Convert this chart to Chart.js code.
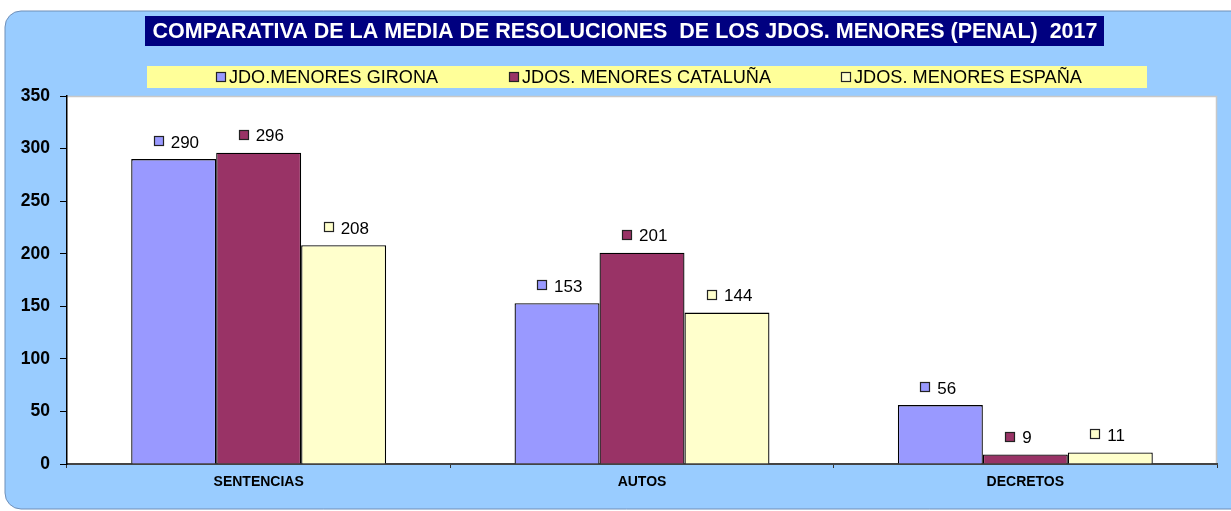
<!DOCTYPE html>
<html>
<head>
<meta charset="utf-8">
<script src="https://cdn.jsdelivr.net/npm/chart.js@4"></script>
<style>
html,body{margin:0;padding:0;background:#fff;}
#wrap{width:1231px;height:511px;position:relative;}
</style>
</head>
<body>
<div id="wrap"><canvas id="c" width="1231" height="511"></canvas></div>
<script>
const categories = ['SENTENCIAS', 'AUTOS', 'DECRETOS'];
const seriesNames = ['JDO.MENORES GIRONA', 'JDOS. MENORES CATALUÑA', 'JDOS. MENORES ESPAÑA'];
const gironaValues = [290, 153, 56];
const catalunaValues = [296, 201, 9];
const espanaValues = [208, 144, 11];
const yTicks = [0, 50, 100, 150, 200, 250, 300, 350];
const titleText = 'COMPARATIVA DE LA MEDIA DE RESOLUCIONES  DE LOS JDOS. MENORES (PENAL)  2017';
const seriesColors = ['#9999FF', '#993366', '#FFFFCC'];

const FONT = 'Arial, "Liberation Sans", sans-serif';

const decorPlugin = {
  id: 'decor',
  beforeDraw(chart) {
    const ctx = chart.ctx;
    ctx.save();
    // rounded light blue panel
    const x = 5, y = 11, w = 1240, h = 498, r = 16;
    ctx.beginPath();
    ctx.moveTo(x + r, y);
    ctx.lineTo(x + w, y);
    ctx.lineTo(x + w, y + h);
    ctx.lineTo(x + r, y + h);
    ctx.arcTo(x, y + h, x, y + h - r, r);
    ctx.lineTo(x, y + r);
    ctx.arcTo(x, y, x + r, y, r);
    ctx.closePath();
    ctx.fillStyle = '#99CCFF';
    ctx.fill();
    ctx.lineWidth = 1;
    ctx.strokeStyle = '#6f8fb8';
    ctx.stroke();
    // plot area background
    const a = chart.chartArea;
    ctx.fillStyle = '#FFFFFF';
    ctx.fillRect(a.left, a.top, a.right - a.left, a.bottom - a.top);
    ctx.strokeStyle = '#c8c8c8';
    ctx.lineWidth = 1.5;
    ctx.beginPath();
    ctx.moveTo(a.left, a.top + 0.5);
    ctx.lineTo(a.right - 0.5, a.top + 0.5);
    ctx.lineTo(a.right - 0.5, a.bottom);
    ctx.stroke();
    // title box
    ctx.fillStyle = '#000080';
    ctx.fillRect(145, 16, 959, 30);
    ctx.fillStyle = '#FFFFFF';
    ctx.font = 'bold 21.5px ' + FONT;
    ctx.textAlign = 'center';
    ctx.textBaseline = 'middle';
    ctx.fillText(titleText, 625, 32, 946);
    // legend box
    ctx.fillStyle = '#FFFF99';
    ctx.fillRect(147, 66, 1000, 22);
    const legendX = [216, 509, 841];
    const legendW = [209, 249, 228];
    ctx.font = '18.5px ' + FONT;
    ctx.textAlign = 'left';
    seriesNames.forEach((name, i) => {
      ctx.fillStyle = seriesColors[i];
      ctx.fillRect(legendX[i] + 0.5, 72.5, 9, 9);
      ctx.strokeStyle = '#222222';
      ctx.lineWidth = 1.2;
      ctx.strokeRect(legendX[i] + 0.5, 72.5, 9, 9);
      ctx.fillStyle = '#000000';
      ctx.fillText(name, legendX[i] + 13, 77.5, legendW[i]);
    });
    ctx.restore();
  },
  afterDatasetsDraw(chart) {
    const ctx = chart.ctx;
    ctx.save();
    ctx.font = '17px ' + FONT;
    ctx.textBaseline = 'middle';
    ctx.textAlign = 'left';
    chart.data.datasets.forEach((ds, di) => {
      const meta = chart.getDatasetMeta(di);
      meta.data.forEach((bar, i) => {
        const cx = bar.x, top = bar.y;
        const sx = Math.round(cx - 20) + 0.5, sy = Math.round(top - 23) + 0.5;
        ctx.fillStyle = seriesColors[di];
        ctx.fillRect(sx, sy, 9, 9);
        ctx.strokeStyle = '#222222';
        ctx.lineWidth = 1.2;
        ctx.strokeRect(sx, sy, 9, 9);
        ctx.fillStyle = '#000000';
        ctx.fillText(String(ds.data[i]), cx - 3, top - 16);
      });
    });
    ctx.restore();
  }
};

new Chart(document.getElementById('c'), {
  type: 'bar',
  data: {
    labels: categories,
    datasets: [
      { label: seriesNames[0], data: gironaValues, backgroundColor: seriesColors[0] },
      { label: seriesNames[1], data: catalunaValues, backgroundColor: seriesColors[1] },
      { label: seriesNames[2], data: espanaValues, backgroundColor: seriesColors[2] }
    ].map(d => Object.assign(d, { borderColor: '#000000', borderWidth: 1.3, borderSkipped: 'bottom', barPercentage: 1, categoryPercentage: 0.665 }))
  },
  options: {
    responsive: false,
    animation: false,
    devicePixelRatio: 1,
    layout: { padding: { top: 96, left: 0, right: 14, bottom: 0 } },
    plugins: { legend: { display: false }, title: { display: false }, tooltip: { enabled: false } },
    scales: {
      x: {
        afterFit(s) { s.height = 47; },
        grid: { display: true, offset: true, drawOnChartArea: false, drawTicks: true, tickLength: 4, color: '#333333' },
        border: { display: true, color: '#444444', width: 2 },
        ticks: { color: '#000000', font: { family: FONT, size: 14, weight: 'bold' }, padding: 6 }
      },
      y: {
        min: 0, max: 350,
        afterFit(s) { s.width = 67; },
        afterBuildTicks(s) { s.ticks = yTicks.map(v => ({ value: v })); },
        grid: { display: true, drawOnChartArea: false, drawTicks: true, tickLength: 7, color: '#000000' },
        border: { display: true, color: '#000000', width: 1.5 },
        ticks: { color: '#000000', font: { family: FONT, size: 17.5, weight: 'bold' }, padding: 10 }
      }
    }
  },
  plugins: [decorPlugin]
});
</script>
</body>
</html>
